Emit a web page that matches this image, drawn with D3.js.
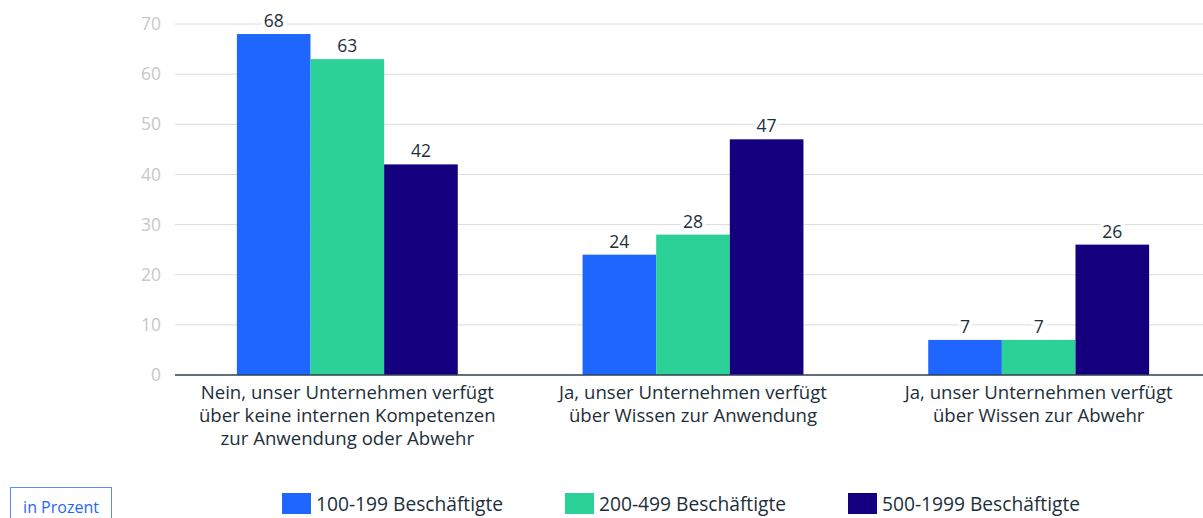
<!DOCTYPE html>
<html>
<head>
<meta charset="utf-8">
<script src="https://cdn.jsdelivr.net/npm/d3@7"></script>
<style>
  body { margin: 0; background: #fff; }
  svg { font-family: "Open Sans", "Noto Sans", sans-serif; }
</style>
</head>
<body>
<div id="chart"></div>
<script>
var categories = [
  ["Nein, unser Unternehmen verfügt", "über keine internen Kompetenzen", "zur Anwendung oder Abwehr"],
  ["Ja, unser Unternehmen verfügt", "über Wissen zur Anwendung"],
  ["Ja, unser Unternehmen verfügt", "über Wissen zur Abwehr"]
];
var seriesNames = ["100-199 Beschäftigte", "200-499 Beschäftigte", "500-1999 Beschäftigte"];
var colors = ["#1f66ff", "#2bd196", "#14007f"];
var s1 = [68, 24, 7];
var s2 = [63, 28, 7];
var s3 = [42, 47, 26];
var yTicks = [0, 10, 20, 30, 40, 50, 60, 70];

var W = 1203, H = 518,
    margin = {top: 24, bottom: 143, left: 175};

var series = [s1, s2, s3];

var svg = d3.select("#chart").append("svg")
    .attr("width", W).attr("height", H);

var x0 = d3.scaleBand()
    .domain(d3.range(categories.length))
    .range([margin.left, 1211])
    .paddingInner(0.361)
    .paddingOuter(0.179);

var x1 = d3.scaleBand()
    .domain(d3.range(series.length))
    .range([0, x0.bandwidth()]);

var y = d3.scaleLinear()
    .domain([0, 70])
    .range([H - margin.bottom, margin.top]);

// grid
svg.append("g").selectAll("line")
  .data(yTicks.slice(1))
  .enter().append("line")
    .attr("x1", margin.left).attr("x2", W)
    .attr("y1", function(d){ return y(d); })
    .attr("y2", function(d){ return y(d); })
    .style("stroke", "#dcdcdc").style("stroke-width", 1);

// y labels
svg.append("g").selectAll("text")
  .data(yTicks)
  .enter().append("text")
    .attr("x", 161)
    .attr("y", function(d){ return y(d); })
    .attr("dy", "0.35em")
    .attr("text-anchor", "end")
    .style("font-size", "17.5px")
    .style("fill", "#c8c8c8")
    .text(function(d){ return d; });

// bars
var groups = svg.append("g").selectAll("g")
  .data(categories)
  .enter().append("g")
    .attr("transform", function(d, i){ return "translate(" + x0(i) + ",0)"; });

groups.selectAll("rect")
  .data(function(d, i){ return series.map(function(s, j){ return {k: j, v: s[i]}; }); })
  .enter().append("rect")
    .attr("x", function(d){ return x1(d.k); })
    .attr("y", function(d){ return y(d.v); })
    .attr("width", x1.bandwidth())
    .attr("height", function(d){ return y(0) - y(d.v); })
    .style("fill", function(d){ return colors[d.k]; });

groups.selectAll("text.val")
  .data(function(d, i){ return series.map(function(s, j){ return {k: j, v: s[i]}; }); })
  .enter().append("text")
    .attr("class", "val")
    .attr("x", function(d){ return x1(d.k) + x1.bandwidth() / 2; })
    .attr("y", function(d){ return y(d.v) - 7; })
    .attr("text-anchor", "middle")
    .style("font-size", "17.5px")
    .style("fill", "#1c2f3a")
    .style("stroke", "#fff")
    .style("stroke-width", 7)
    .style("paint-order", "stroke")
    .text(function(d){ return d.v; });

// baseline
svg.append("line")
  .attr("x1", margin.left).attr("x2", W)
  .attr("y1", y(0)).attr("y2", y(0))
  .style("stroke", "#2d4250").style("stroke-width", 1.5);

// category labels
groups.each(function(lines){
  var t = d3.select(this).append("text")
    .attr("text-anchor", "middle")
    .style("font-size", "18.6px")
    .style("fill", "#1c2f3a");
  lines.forEach(function(l, k){
    t.append("tspan")
      .attr("x", x0.bandwidth() / 2)
      .attr("y", y(0) + 24 + k * 23)
      .text(l);
  });
});

// legend
var legend = svg.append("g").selectAll("g")
  .data(seriesNames)
  .enter().append("g")
    .attr("transform", function(d, i){ return "translate(" + (282 + i * 283) + ",493)"; });

legend.append("rect")
  .attr("width", 29).attr("height", 21)
  .style("fill", function(d, i){ return colors[i]; });

legend.append("text")
  .attr("x", 34).attr("y", 18)
  .style("font-size", "19.2px")
  .style("fill", "#1c2f3a")
  .text(function(d){ return d; });

// unit box
svg.append("rect")
  .attr("x", 10.5).attr("y", 487.5)
  .attr("width", 101).attr("height", 40)
  .style("fill", "none").style("stroke", "#5b8cff").style("stroke-width", 1);

svg.append("text")
  .attr("x", 61).attr("y", 513)
  .attr("text-anchor", "middle")
  .style("font-size", "16px")
  .style("fill", "#1f66ff")
  .text("in Prozent");
</script>
</body>
</html>
